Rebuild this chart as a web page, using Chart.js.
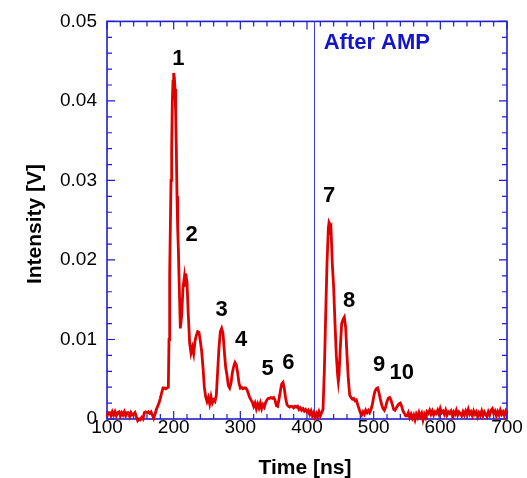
<!DOCTYPE html>
<html>
<head>
<meta charset="utf-8">
<script src="https://cdn.jsdelivr.net/npm/chart.js@4"></script>
<style>
  html, body { margin: 0; padding: 0; background: #fff; }
  canvas { display: block; }
</style>
</head>
<body>
<canvas id="chart" width="527" height="478"></canvas>
<script>
// Trace: time [ns] and intensity [V]
const timeNs = [
  100, 102, 104, 106, 108, 110, 112, 114, 116, 118,
  120, 122, 124, 126, 128, 130, 132, 134, 136, 138,
  140, 142, 144, 146, 148, 150, 152, 154, 156, 158,
  160, 162, 164, 166, 168, 170, 172, 174, 176, 178,
  180, 182, 184, 186, 188, 190,
  192, 193, 194, 195, 196, 197, 198, 199, 200, 201,
  202, 203, 204, 205, 206, 207, 208, 210, 212, 214,
  216, 217, 218, 220, 222, 224, 226, 228, 230, 232,
  234, 236, 238, 240, 242, 244, 246, 248, 250, 252,
  254, 256, 258, 260, 262,
  264, 266, 268, 270, 272, 274, 276, 278, 280, 282,
  284, 286, 288, 290, 292, 294, 296, 298, 300, 302,
  304, 306, 308, 310, 312, 314, 316, 318, 320, 322,
  324, 326, 328, 330, 332, 334, 336, 338, 340, 342,
  344, 346, 348, 350, 352, 354, 356, 358, 360, 362,
  364, 366, 368, 370, 372, 374, 376, 378, 380, 382,
  384, 386, 388, 390, 392, 394, 396, 398, 400, 402,
  404, 406, 408, 410, 412, 414, 416, 418, 420, 422,
  424, 426, 428, 430, 432, 433, 434, 435, 436, 438,
  440, 442, 444, 446, 447, 448, 450, 452, 454, 456,
  458, 460, 462, 464, 466, 468, 470, 472, 474, 476,
  478, 480, 482, 484, 486, 488, 490, 492, 494, 496,
  498, 500, 502, 504, 506, 508, 510, 512, 514, 516,
  518, 520, 522, 524, 526, 528, 530, 532, 534, 536,
  538, 540, 542, 544, 546, 548,
  550, 552, 554, 556, 558, 560, 562, 564, 566, 568,
  570, 572, 574, 576, 578, 580, 582, 584, 586, 588,
  590, 592, 594, 596, 598, 600, 602, 604, 606, 608,
  610, 612, 614, 616, 618, 620, 622, 624, 626, 628,
  630, 632, 634, 636, 638, 640, 642, 644, 646, 648,
  650, 652, 654, 656, 658, 660, 662, 664, 666, 668,
  670, 672, 674, 676, 678, 680, 682, 684, 686, 688,
  690, 692, 694, 696, 698, 700
];
const intensityV = [
  0.0003, 0.0008, 0.0008, 0.0004, 0.0009, 0.0005, 0.0009, 0.0004, 0.0008, 0.0009,
  0.0004, 0.0008, 0.0005, 0.0009, 0.0004, 0.0008, 0.0008, 0.0003, 0.0008, 0.0005,
  0.0006, 0.0008, 0.0003, -0.0002, 0.0000, -0.0001, 0.0002, 0.0000, 0.0008, 0.0009,
  0.0008, 0.0009, 0.0007, 0.0009, 0.0005, 0.0001, 0.0006, 0.0012, 0.0016, 0.0020,
  0.0026, 0.0033, 0.0039, 0.0039, 0.0038, 0.0039,
  0.0040, 0.0100, 0.0180, 0.0240, 0.0300, 0.0340, 0.0400, 0.0425, 0.0435, 0.0430,
  0.0415, 0.0385, 0.0340, 0.0280, 0.0240, 0.0215, 0.0180, 0.0114, 0.0130, 0.0165,
  0.0178, 0.0168, 0.0183, 0.0172, 0.0130, 0.0095, 0.0083, 0.0090, 0.0082, 0.0098,
  0.0105, 0.0110, 0.0109, 0.0098, 0.0085, 0.0065, 0.0040, 0.0028, 0.0022, 0.0027,
  0.0019, 0.0028, 0.0020, 0.0024, 0.0022,
  0.0030, 0.0060, 0.0090, 0.0110, 0.0114, 0.0108, 0.0085, 0.0065, 0.0055, 0.0042,
  0.0039, 0.0045, 0.0058, 0.0066, 0.0071, 0.0068, 0.0058, 0.0045, 0.0039, 0.0040,
  0.0038, 0.0039, 0.0039, 0.0037, 0.0032, 0.0027, 0.0024, 0.0021, 0.0016, 0.0020,
  0.0013, 0.0019, 0.0014, 0.0020, 0.0013, 0.0018, 0.0015, 0.0021, 0.0024, 0.0026,
  0.0026, 0.0027, 0.0026, 0.0027, 0.0024, 0.0017, 0.0016, 0.0025, 0.0035, 0.0044,
  0.0046, 0.0038, 0.0026, 0.0018, 0.0016, 0.0015, 0.0016, 0.0016, 0.0014, 0.0016,
  0.0015, 0.0016, 0.0012, 0.0014, 0.0011, 0.0013, 0.0010, 0.0012, 0.0009, 0.0011,
  0.0006, 0.0010, 0.0004, 0.0008, 0.0002, 0.0007, 0.0003, 0.0009, 0.0004, 0.0008,
  0.0012, 0.0060, 0.0130, 0.0195, 0.0240, 0.0247, 0.0245, 0.0238, 0.0240, 0.0195,
  0.0165, 0.0120, 0.0080, 0.0055, 0.0047, 0.0055, 0.0090, 0.0120, 0.0125, 0.0128,
  0.0115, 0.0080, 0.0050, 0.0030, 0.0027, 0.0025, 0.0026, 0.0023, 0.0024, 0.0018,
  0.0013, 0.0008, 0.0005, 0.0009, 0.0006, 0.0011, 0.0008, 0.0011, 0.0008, 0.0012,
  0.0018, 0.0028, 0.0035, 0.0038, 0.0039, 0.0033, 0.0025, 0.0018, 0.0013, 0.0011,
  0.0015, 0.0022, 0.0026, 0.0027, 0.0024, 0.0018, 0.0012, 0.0011, 0.0014, 0.0017,
  0.0019, 0.0020, 0.0016, 0.0010, 0.0007, 0.0004,
  0.0004, 0.0008, 0.0002, 0.0006, 0.0001, 0.0005, -0.0001, 0.0006, 0.0002, 0.0008,
  0.0003, 0.0007, -0.0001, 0.0006, 0.0002, 0.0009, 0.0007, 0.0011, 0.0006, 0.0010,
  0.0005, 0.0009, 0.0007, 0.0011, 0.0006, 0.0013, 0.0008, 0.0010, 0.0006, 0.0011,
  0.0005, 0.0009, 0.0007, 0.0010, 0.0004, 0.0009, 0.0006, 0.0011, 0.0005, 0.0009,
  0.0007, 0.0004, 0.0009, 0.0005, 0.0010, 0.0006, 0.0012, 0.0006, 0.0009, 0.0004,
  0.0010, 0.0006, 0.0009, 0.0003, 0.0008, 0.0005, 0.0010, 0.0004, 0.0009, 0.0006,
  0.0003, 0.0009, 0.0005, 0.0011, 0.0013, 0.0007, 0.0010, 0.0004, 0.0009, 0.0005,
  0.0011, 0.0006, 0.0009, 0.0004, 0.0010, 0.0007
];

// Axis ticks
const xTickValues = [100, 200, 300, 400, 500, 600, 700];
const yTickValues = [0, 0.01, 0.02, 0.03, 0.04, 0.05];
const yTickLabels = ['0', '0.01', '0.02', '0.03', '0.04', '0.05'];
const xMinorStep = 20;
const yMinorStep = 0.002;

// Peak numbers (placed in data coords)
const peakNames = ['1', '2', '3', '4', '5', '6', '7', '8', '9', '10'];
const peakTimes = [207, 227, 272, 301, 341, 372, 433, 463, 508, 542];
const peakLevels = [0.0453, 0.0231, 0.0137, 0.0099, 0.0063, 0.0071, 0.028, 0.0149, 0.0068, 0.0058];

// Amplifier marker
const ampTime = 410;
const ampLabel = 'After AMP';

const axisBlue = 'rgb(30, 30, 205)';
const traceRed = 'rgb(225, 0, 0)';
const fontFamily = '"Liberation Sans", Arial, sans-serif';

Chart.defaults.font.family = fontFamily;
Chart.defaults.color = '#000';

// frame, inward ticks on all sides, AMP line
const frameTicks = {
  id: 'frameTicks',
  beforeDatasetsDraw(chart) {
    const { ctx, chartArea: a, scales: { x, y } } = chart;
    ctx.save();
    ctx.strokeStyle = axisBlue;
    ctx.lineWidth = 1.2;
    ctx.beginPath();
    for (let v = x.min; v <= x.max + 0.001; v += xMinorStep) {
      const px = x.getPixelForValue(v);
      const len = xTickValues.includes(Math.round(v)) ? 8 : 5;
      ctx.moveTo(px, a.bottom); ctx.lineTo(px, a.bottom - len);
      ctx.moveTo(px, a.top); ctx.lineTo(px, a.top + len);
    }
    const nY = Math.round((y.max - y.min) / yMinorStep);
    for (let i = 0; i <= nY; i++) {
      const py = y.getPixelForValue(y.min + i * yMinorStep);
      const len = i % 5 === 0 ? 8 : 5;
      ctx.moveTo(a.left, py); ctx.lineTo(a.left + len, py);
      ctx.moveTo(a.right, py); ctx.lineTo(a.right - len, py);
    }
    ctx.stroke();

    ctx.lineWidth = 1.6;
    ctx.strokeRect(a.left, a.top, a.right - a.left, a.bottom - a.top);

    // AMP line
    const ax = Math.round(x.getPixelForValue(ampTime)) + 0.5;
    ctx.strokeStyle = 'rgb(60, 60, 225)';
    ctx.lineWidth = 1;
    ctx.beginPath();
    ctx.moveTo(ax, a.top);
    ctx.lineTo(ax, a.bottom);
    ctx.stroke();
    ctx.restore();
  },
  afterDatasetsDraw(chart) {
    const { ctx, chartArea: a, scales: { x, y } } = chart;
    ctx.save();
    ctx.textAlign = 'center';
    ctx.textBaseline = 'middle';
    ctx.fillStyle = '#000';
    ctx.font = 'bold 22px ' + fontFamily;
    peakNames.forEach((name, i) => {
      ctx.fillText(name, x.getPixelForValue(peakTimes[i]), y.getPixelForValue(peakLevels[i]));
    });

    ctx.fillStyle = 'rgb(20, 20, 200)';
    ctx.textAlign = 'left';
    ctx.fillText(ampLabel, x.getPixelForValue(ampTime) + 10, a.top + 22);

    // axis titles
    ctx.fillStyle = '#000';
    ctx.font = 'bold 21px ' + fontFamily;
    ctx.textAlign = 'center';
    ctx.fillText('Time [ns]', 305, 468);
    ctx.translate(35, 224);
    ctx.rotate(-Math.PI / 2);
    ctx.fillText('Intensity [V]', 0, 0);
    ctx.restore();
  }
};

const ctx = document.getElementById('chart').getContext('2d');
new Chart(ctx, {
  type: 'line',
  data: {
    datasets: [{
      data: timeNs.map((t, i) => ({ x: t, y: intensityV[i] })),
      borderColor: traceRed,
      borderWidth: 2.8,
      pointRadius: 0,
      tension: 0,
      fill: false,
      clip: false
    }]
  },
  options: {
    responsive: false,
    animation: false,
    layout: { padding: { top: 19, right: 20, left: 0, bottom: 0 } },
    plugins: { legend: { display: false }, tooltip: { enabled: false } },
    scales: {
      x: {
        type: 'linear',
        min: 100,
        max: 700,
        grid: { display: false, drawTicks: false },
        border: { display: false },
        afterBuildTicks: (s) => { s.ticks = xTickValues.map(v => ({ value: v })); },
        afterFit: (s) => { s.height = 59; },
        ticks: {
          padding: -3,
          maxRotation: 0,
          font: { size: 19 },
          color: '#000',
          callback: (v) => String(v)
        }
      },
      y: {
        min: 0,
        max: 0.05,
        grid: { display: false, drawTicks: false },
        border: { display: false },
        afterBuildTicks: (s) => { s.ticks = yTickValues.map(v => ({ value: v })); },
        afterFit: (s) => { s.width = 107; },
        ticks: {
          padding: 10,
          font: { size: 19 },
          color: '#000',
          callback: (v, i) => yTickLabels[i]
        }
      }
    }
  },
  plugins: [frameTicks]
});
</script>
</body>
</html>
